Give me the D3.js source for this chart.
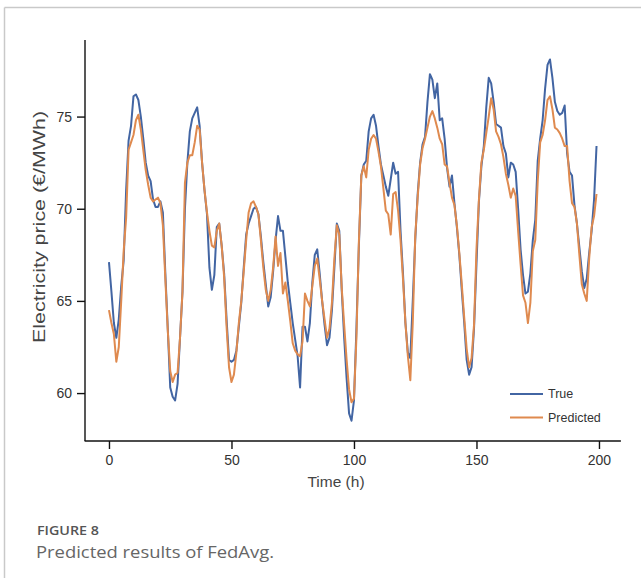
<!DOCTYPE html>
<html>
<head>
<meta charset="utf-8">
<script src="https://cdn.jsdelivr.net/npm/d3@7"></script>
<style>
  html, body { margin: 0; padding: 0; background: #fff; }
  svg { display: block; }
</style>
</head>
<body>
<svg id="fig" width="641" height="578"></svg>
<script>
// Hourly electricity price: observed vs. FedAvg prediction (hours 0..199)
const trueValues = [
  67.1, 65.5, 63.8, 63.0, 64.0, 65.8, 67.2, 71.0, 73.7, 74.5,
  76.1, 76.2, 75.9, 75.0, 73.8, 72.5, 71.8, 71.5, 70.5, 70.1,
  70.1, 70.4, 69.8, 66.5, 63.5, 60.3, 59.8, 59.6, 60.5, 63.0,
  65.5, 70.0, 72.5, 74.2, 74.9, 75.2, 75.5, 74.5, 72.5, 71.0,
  69.7, 66.8, 65.6, 66.4, 69.0, 69.2, 68.0, 66.5, 64.0, 61.8,
  61.7, 61.8, 62.3, 63.6, 64.9, 66.8, 68.6, 69.2, 69.6, 70.0,
  70.1, 69.7, 68.5, 67.1, 65.9, 64.7, 65.2, 66.6, 68.3, 69.6,
  68.8, 68.8, 67.4, 66.0, 64.9, 63.8, 62.9, 62.0, 60.3, 63.6,
  63.6, 62.8, 63.8, 66.0, 67.5, 67.8, 66.5, 65.0, 63.7, 62.6,
  63.0, 64.5, 66.8, 69.2, 68.8, 65.6, 63.0, 60.8, 58.9, 58.5,
  59.6, 63.5, 68.0, 71.8, 72.4, 72.6, 74.2, 74.9, 75.1, 74.5,
  73.4, 72.4, 71.8, 71.2, 70.7, 71.6, 72.5, 71.9, 72.0, 68.8,
  66.5, 63.8, 62.2, 61.9, 65.0, 68.3, 70.8, 72.5, 73.5, 73.9,
  75.8, 77.3, 77.0, 76.0, 76.8, 74.8, 74.9, 73.8, 72.2, 71.2,
  71.8, 70.3, 69.0, 67.5, 65.6, 63.8, 61.8, 61.0, 61.4, 63.5,
  67.0, 70.4, 72.3, 73.4, 75.5, 77.1, 76.8, 75.8, 74.6, 74.5,
  74.4, 73.4, 73.0, 71.7, 72.5, 72.4, 72.0, 70.0, 67.8, 66.4,
  65.4, 65.5, 66.5, 68.3, 69.4, 72.6, 73.8, 74.8, 76.5, 77.8,
  78.1, 77.1, 75.8, 75.3, 75.1, 75.2, 75.6, 73.0, 72.0, 71.8,
  70.2, 69.2, 67.9, 66.6, 65.7, 66.2, 67.6, 68.8, 70.5, 73.4
];

const predictedValues = [
  64.5, 63.8, 63.2, 61.7, 62.5, 65.0, 67.7, 69.5, 73.2, 73.6,
  74.0, 74.8, 75.1, 74.3, 73.2, 72.1, 71.3, 70.6, 70.4, 70.5,
  70.6, 70.3, 69.1, 66.2, 63.4, 61.2, 60.6, 61.0, 61.1, 63.0,
  65.5, 71.4, 72.5, 72.9, 72.9, 73.6, 74.5, 74.3, 72.5, 71.0,
  69.8, 68.8, 68.0, 67.9, 68.8, 69.2, 68.0, 66.3, 63.6, 61.4,
  60.6, 61.0, 62.2, 63.8, 65.0, 66.6, 68.3, 69.8, 70.3, 70.4,
  70.1, 69.7, 68.3, 66.8, 65.6, 65.0, 65.6, 66.8, 68.5, 66.9,
  67.6, 65.4, 66.0, 65.0, 63.9, 62.7, 62.3, 62.1, 62.0, 62.8,
  65.4, 65.0, 64.7, 65.8, 66.9, 67.3, 66.2, 65.0, 64.0, 63.0,
  63.5, 64.9, 67.3, 69.1, 68.6, 65.7, 63.7, 61.8, 60.2, 59.5,
  59.7, 63.0, 68.2, 71.8, 72.3, 71.7, 73.2, 73.8, 74.0, 73.8,
  73.1, 72.3, 71.1, 69.9, 69.7, 68.6, 70.8, 70.9, 69.9, 68.3,
  66.2, 63.8, 62.0, 60.7, 63.8, 68.5, 70.6, 72.4, 73.3, 73.8,
  74.4, 75.0, 75.3, 74.9, 74.4, 73.8, 73.5, 72.4, 72.3, 71.4,
  70.6, 70.2, 69.1, 67.6, 65.9, 64.1, 62.4, 61.4, 61.9, 63.7,
  67.8, 70.5, 72.5, 73.2, 74.1, 75.0, 76.0, 75.4, 74.2, 73.9,
  73.5, 72.8, 71.9, 71.3, 70.6, 71.1, 70.7, 68.8, 67.0, 65.3,
  64.9, 63.8, 64.9, 67.7, 68.3, 71.5, 73.6, 74.0, 74.8, 75.9,
  76.1, 75.4, 74.4, 74.3, 74.1, 73.8, 73.4, 73.4, 71.5, 70.3,
  70.1, 69.2, 67.5, 65.9, 65.4, 65.0, 67.3, 69.0, 69.6, 70.8
];

const hours = d3.range(trueValues.length);
const xTicks = [0, 50, 100, 150, 200];
const yTicks = [60, 65, 70, 75];
const seriesNames = ["True", "Predicted"];
const seriesColors = ["#4265a3", "#df8a4f"];

const svg = d3.select("#fig");

// figure frame (top and left rules)
svg.append("line").attr("x1", 4.5).attr("x2", 641).attr("y1", 7.5).attr("y2", 7.5)
  .attr("stroke", "#c9c9c9").attr("stroke-width", 1.5);
svg.append("line").attr("x1", 4.5).attr("x2", 4.5).attr("y1", 7.5).attr("y2", 578)
  .attr("stroke", "#c9c9c9").attr("stroke-width", 1.5);

const x = d3.scaleLinear().domain([-9.95, 208.95]).range([84.6, 620.9]);
const y = d3.scaleLinear().domain([57.4, 79.1]).range([441, 41]);

const tickFont = "Liberation Sans, Arial, sans-serif";

// y axis
const yAxis = svg.append("g").attr("transform", "translate(85,0)")
  .call(d3.axisLeft(y).tickValues(yTicks).tickSize(8).tickPadding(5).tickFormat(d3.format("d")));
yAxis.select(".domain").attr("d", `M0,${y.range()[1] - 1}V${y.range()[0]}`)
  .attr("stroke", "#111").attr("stroke-width", 1.4);
yAxis.selectAll(".tick line").attr("stroke", "#111").attr("stroke-width", 1.4);
yAxis.selectAll(".tick text").attr("font-family", tickFont).attr("font-size", 14).attr("fill", "#333");

// x axis
const xAxis = svg.append("g").attr("transform", "translate(0,441)")
  .call(d3.axisBottom(x).tickValues(xTicks).tickSize(8).tickPadding(6).tickFormat(d3.format("d")));
xAxis.select(".domain").attr("d", `M${x.range()[0]},0H${x.range()[1]}`)
  .attr("stroke", "#111").attr("stroke-width", 1.4);
xAxis.selectAll(".tick line").attr("stroke", "#111").attr("stroke-width", 1.4);
xAxis.selectAll(".tick text").attr("font-family", tickFont).attr("font-size", 14).attr("fill", "#333");

// axis titles
svg.append("text").attr("x", 336).attr("y", 487).attr("text-anchor", "middle")
  .attr("font-family", tickFont).attr("font-size", 15.5).attr("fill", "#444")
  .text("Time (h)");
svg.append("text").attr("transform", "translate(45,227) rotate(-90)")
  .attr("text-anchor", "middle")
  .attr("font-family", tickFont).attr("font-size", 17).attr("fill", "#444")
  .attr("textLength", 232).attr("lengthAdjust", "spacingAndGlyphs")
  .text("Electricity price (€/MWh)");

// series lines
const line = d3.line().x((d, i) => x(hours[i])).y(d => y(d));
[trueValues, predictedValues].forEach((vals, k) => {
  svg.append("path").datum(vals)
    .attr("d", line)
    .attr("fill", "none")
    .attr("stroke", seriesColors[k])
    .attr("stroke-width", 2)
    .attr("stroke-linejoin", "round");
});

// legend
const legend = svg.append("g");
seriesNames.forEach((name, k) => {
  const ly = 394 + k * 23.5;
  legend.append("line").attr("x1", 510).attr("x2", 543).attr("y1", ly).attr("y2", ly)
    .attr("stroke", seriesColors[k]).attr("stroke-width", 2);
  legend.append("text").attr("x", 548).attr("y", ly).attr("dy", "0.35em")
    .attr("font-family", tickFont).attr("font-size", 12.5).attr("fill", "#333")
    .text(name);
});

// caption
svg.append("text").attr("x", 37).attr("y", 535)
  .attr("font-family", "Open Sans, sans-serif").attr("font-size", 12).attr("font-weight", 600)
  .attr("fill", "#555")
  .attr("textLength", 62).attr("lengthAdjust", "spacingAndGlyphs")
  .text("FIGURE 8");
svg.append("text").attr("x", 36).attr("y", 558)
  .attr("font-family", "Open Sans, sans-serif").attr("font-size", 16)
  .attr("fill", "#666")
  .attr("textLength", 238).attr("lengthAdjust", "spacingAndGlyphs")
  .text("Predicted results of FedAvg.");
</script>
</body>
</html>
